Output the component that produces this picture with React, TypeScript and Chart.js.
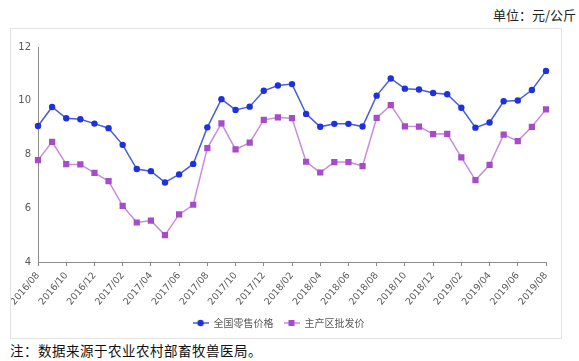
import React, { useEffect, useRef } from "react";
import { Chart, registerables } from "chart.js";
Chart.register(...registerables);

const months = [
  "2016/08", "2016/09", "2016/10", "2016/11", "2016/12",
  "2017/01", "2017/02", "2017/03", "2017/04", "2017/05", "2017/06", "2017/07",
  "2017/08", "2017/09", "2017/10", "2017/11", "2017/12",
  "2018/01", "2018/02", "2018/03", "2018/04", "2018/05", "2018/06", "2018/07",
  "2018/08", "2018/09", "2018/10", "2018/11", "2018/12",
  "2019/01", "2019/02", "2019/03", "2019/04", "2019/05", "2019/06", "2019/07",
  "2019/08",
];

const retailPrice = [
  9.06, 9.77, 9.35, 9.31, 9.15, 8.98, 8.36, 7.46, 7.38, 6.96, 7.26, 7.65,
  9.01, 10.06, 9.66, 9.78, 10.37, 10.57, 10.62, 9.51, 9.03, 9.14, 9.14, 9.04,
  10.19, 10.83, 10.45, 10.42, 10.29, 10.24, 9.74, 9.0, 9.19, 9.98, 10.01, 10.4,
  11.11,
];

const wholesalePrice = [
  7.79, 8.47, 7.64, 7.63, 7.32, 7.01, 6.09, 5.47, 5.54, 5.0, 5.77, 6.13,
  8.24, 9.16, 8.19, 8.44, 9.29, 9.38, 9.35, 7.73, 7.33, 7.72, 7.72, 7.57,
  9.36, 9.84, 9.05, 9.04, 8.76, 8.77, 7.89, 7.05, 7.61, 8.74, 8.5, 9.03,
  9.68,
];

const seriesNames = ["全国零售价格", "主产区批发价"];
const yMin = 4;
const yMax = 12;
const yStep = 2;

const BLUE_LINE = "#4a5fd6";
const BLUE_PT = "#1f30e0";
const PURPLE_LINE = "#c88ddb";
const PURPLE_PT = "#a74bcb";

function legendIcon(lineColor: string, ptColor: string, square: boolean) {
  const c = document.createElement("canvas");
  c.width = 16;
  c.height = 10;
  const g = c.getContext("2d")!;
  g.strokeStyle = lineColor;
  g.lineWidth = 1.5;
  g.beginPath();
  g.moveTo(0, 5);
  g.lineTo(16, 5);
  g.stroke();
  g.fillStyle = ptColor;
  if (square) {
    g.fillRect(5, 2, 6, 6);
  } else {
    g.beginPath();
    g.arc(8, 5, 3.2, 0, Math.PI * 2);
    g.fill();
  }
  return c;
}

export default function App() {
  const ref = useRef<HTMLCanvasElement>(null);

  useEffect(() => {
    if (!ref.current) return;
    const icons = [
      legendIcon(BLUE_LINE, BLUE_PT, false),
      legendIcon(PURPLE_LINE, PURPLE_PT, true),
    ];
    const chart = new Chart(ref.current, {
      type: "line",
      data: {
        labels: months,
        datasets: [
          {
            label: seriesNames[0],
            data: retailPrice,
            borderColor: BLUE_LINE,
            backgroundColor: BLUE_PT,
            pointBackgroundColor: BLUE_PT,
            pointBorderColor: BLUE_PT,
            pointRadius: 3.2,
            pointBorderWidth: 0,
            borderWidth: 1.5,
            tension: 0,
          },
          {
            label: seriesNames[1],
            data: wholesalePrice,
            borderColor: PURPLE_LINE,
            backgroundColor: PURPLE_PT,
            pointBackgroundColor: PURPLE_PT,
            pointBorderColor: PURPLE_PT,
            pointStyle: "rect",
            pointRadius: 4.4,
            pointBorderWidth: 0,
            borderWidth: 1.5,
            tension: 0,
          },
        ],
      },
      options: {
        animation: false,
        responsive: false,
        maintainAspectRatio: false,
        layout: { padding: { top: 18, right: 15, left: 0, bottom: 0 } },
        plugins: {
          tooltip: { enabled: false },
          legend: {
            position: "bottom",
            labels: {
              usePointStyle: true,
              pointStyleWidth: 16,
              padding: 10,
              color: "#595959",
              font: { family: "'Noto Sans CJK SC', 'DejaVu Sans', sans-serif", size: 10 },
              generateLabels: (ch: any) =>
                ch.data.datasets.map((ds: any, i: number) => ({
                  text: ds.label,
                  pointStyle: icons[i],
                  fillStyle: "transparent",
                  strokeStyle: "transparent",
                  lineWidth: 0,
                  fontColor: "#595959",
                  hidden: false,
                  datasetIndex: i,
                })),
            },
          },
        },
        scales: {
          x: {
            type: "category",
            afterFit: (s: any) => {
              s.height = 46;
              s.paddingLeft = 0;
              s.paddingRight = 0;
            },
            ticks: {
              autoSkip: false,
              minRotation: 50,
              maxRotation: 50,
              padding: 4,
              color: "#595959",
              font: { family: "'DejaVu Sans', sans-serif", size: 9.5 },
              callback: (_v: any, i: number) => (i % 2 === 0 ? months[i] : ""),
            },
            grid: {
              drawOnChartArea: false,
              drawTicks: true,
              tickLength: 4,
              color: (ctx: any) => (ctx.index % 2 === 0 ? "#8c8c8c" : "rgba(0,0,0,0)"),
            },
            border: { color: "#8c8c8c", width: 1 },
          },
          y: {
            min: yMin,
            max: yMax,
            afterFit: (s: any) => {
              s.width = 27;
            },
            ticks: {
              stepSize: yStep,
              padding: 7,
              color: "#595959",
              font: { family: "'DejaVu Sans', sans-serif", size: 10 },
            },
            grid: { drawOnChartArea: false, drawTicks: false },
            border: { color: "#8c8c8c", width: 1 },
          },
        },
      },
    });
    return () => chart.destroy();
  }, []);

  return (
    <div
      style={{
        position: "absolute",
        left: 0,
        top: 0,
        width: 579,
        height: 361,
        background: "#fff",
        fontFamily: "'Noto Sans CJK SC', sans-serif",
      }}
    >
      <div
        style={{
          position: "absolute",
          right: 3,
          top: 6,
          fontSize: 13,
          lineHeight: "18px",
          color: "#222",
        }}
      >
        单位：元/公斤
      </div>
      <div
        style={{
          position: "absolute",
          left: 10,
          top: 28,
          width: 550,
          height: 309,
          border: "1px solid #e3e3e3",
        }}
      >
        <canvas ref={ref} width={550} height={309} style={{ display: "block" }} />
      </div>
      <div
        style={{
          position: "absolute",
          left: 10,
          top: 341,
          fontSize: 13.5,
          lineHeight: "18px",
          color: "#111",
          letterSpacing: 0.5,
        }}
      >
        注：数据来源于农业农村部畜牧兽医局。
      </div>
    </div>
  );
}
